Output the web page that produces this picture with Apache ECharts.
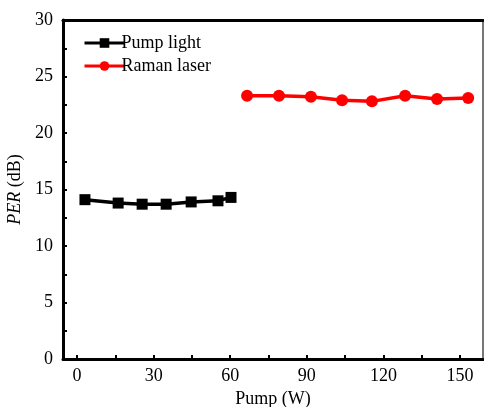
<!DOCTYPE html>
<html>
<head>
    <meta charset="utf-8">
    <title>PER</title>
    <script src="https://cdn.jsdelivr.net/npm/echarts@6/dist/echarts.min.js"></script>
    <style>
        html, body { margin: 0; padding: 0; background: #fff; }
        #chart { width: 484px; height: 407px; }
    </style>
</head>
<body>
    <div id="chart"></div>
    <script>
        var pumpX = [3.1, 16.1, 25.5, 34.9, 44.7, 55.2, 60.3];
        var pumpY = [14.1, 13.8, 13.7, 13.7, 13.9, 14.0, 14.3];
        var ramanX = [66.6, 79.1, 91.6, 103.8, 115.5, 128.5, 141.0, 153.2];
        var ramanY = [23.3, 23.3, 23.2, 22.9, 22.8, 23.3, 23.0, 23.1];
        var xTicks = [0, 30, 60, 90, 120, 150];
        var xMinor = [0, 15, 30, 45, 60, 75, 90, 105, 120, 135, 150];
        var yTicks = [0, 5, 10, 15, 20, 25, 30];

        function pairs(xs, ys) {
            var out = [];
            for (var i = 0; i < xs.length; i++) out.push([xs[i], ys[i]]);
            return out;
        }

        var font = 'Liberation Serif';
        var myChart = echarts.init(document.getElementById('chart'));
        var option = {
            animation: false,
            grid: { left: 63, top: 20, right: 1, bottom: 48, outerBoundsMode: 'none', containLabel: false },
            legend: {
                left: 78, top: 29, orient: 'vertical', itemGap: 5,
                itemWidth: 40, itemHeight: 12,
                lineStyle: { width: 3 },
                textStyle: { fontFamily: font, fontSize: 18, color: '#000', padding: [0, 0, 0, -8] },
                data: ['Pump light', 'Raman laser']
            },
            xAxis: [{
                type: 'value', min: -5.5, max: 159,
                axisLine: { onZero: false, lineStyle: { color: '#000', width: 3 } },
                axisTick: { show: true, inside: true, length: 4, customValues: xMinor, lineStyle: { color: '#000', width: 2 } },
                splitLine: { show: false },
                axisLabel: { fontFamily: font, fontSize: 18, color: '#000', margin: 8, customValues: xTicks },
                name: 'Pump (W)', nameLocation: 'middle', nameGap: 31,
                nameTextStyle: { fontFamily: font, fontSize: 18, color: '#000' }
            }, {
                type: 'value', position: 'top', min: -5.5, max: 159,
                axisLine: { show: true, onZero: false, lineStyle: { color: '#000', width: 3 } },
                axisTick: { show: false }, axisLabel: { show: false }, splitLine: { show: false }
            }],
            yAxis: [{
                type: 'value', min: 0, max: 30, interval: 2.5,
                axisLine: { onZero: false, lineStyle: { color: '#000', width: 3 } },
                axisTick: { show: true, inside: true, length: 4, lineStyle: { color: '#000', width: 2 } },
                splitLine: { show: false },
                axisLabel: {
                    fontFamily: font, fontSize: 18, color: '#000', margin: 10,
                    formatter: function (v) { return yTicks.indexOf(v) >= 0 ? String(v) : ''; }
                },
                name: '{i|PER} (dB)', nameLocation: 'middle', nameGap: 38,
                nameTextStyle: {
                    fontFamily: font, fontSize: 18, color: '#000',
                    rich: { i: { fontFamily: font, fontSize: 18, fontStyle: 'italic', color: '#000' } }
                }
            }, {
                type: 'value', position: 'right', min: 0, max: 30,
                axisLine: { show: true, onZero: false, lineStyle: { color: '#777', width: 2 } },
                axisTick: { show: false }, axisLabel: { show: false }, splitLine: { show: false }
            }],
            series: [{
                name: 'Pump light', type: 'line',
                data: pairs(pumpX, pumpY),
                symbol: 'rect', symbolSize: 11,
                itemStyle: { color: '#000' },
                lineStyle: { color: '#000', width: 3.5 }
            }, {
                name: 'Raman laser', type: 'line',
                data: pairs(ramanX, ramanY),
                symbol: 'circle', symbolSize: 12,
                itemStyle: { color: '#ff0000' },
                lineStyle: { color: '#ff0000', width: 3.5 }
            }]
        };
        myChart.setOption(option);
    </script>
</body>
</html>
